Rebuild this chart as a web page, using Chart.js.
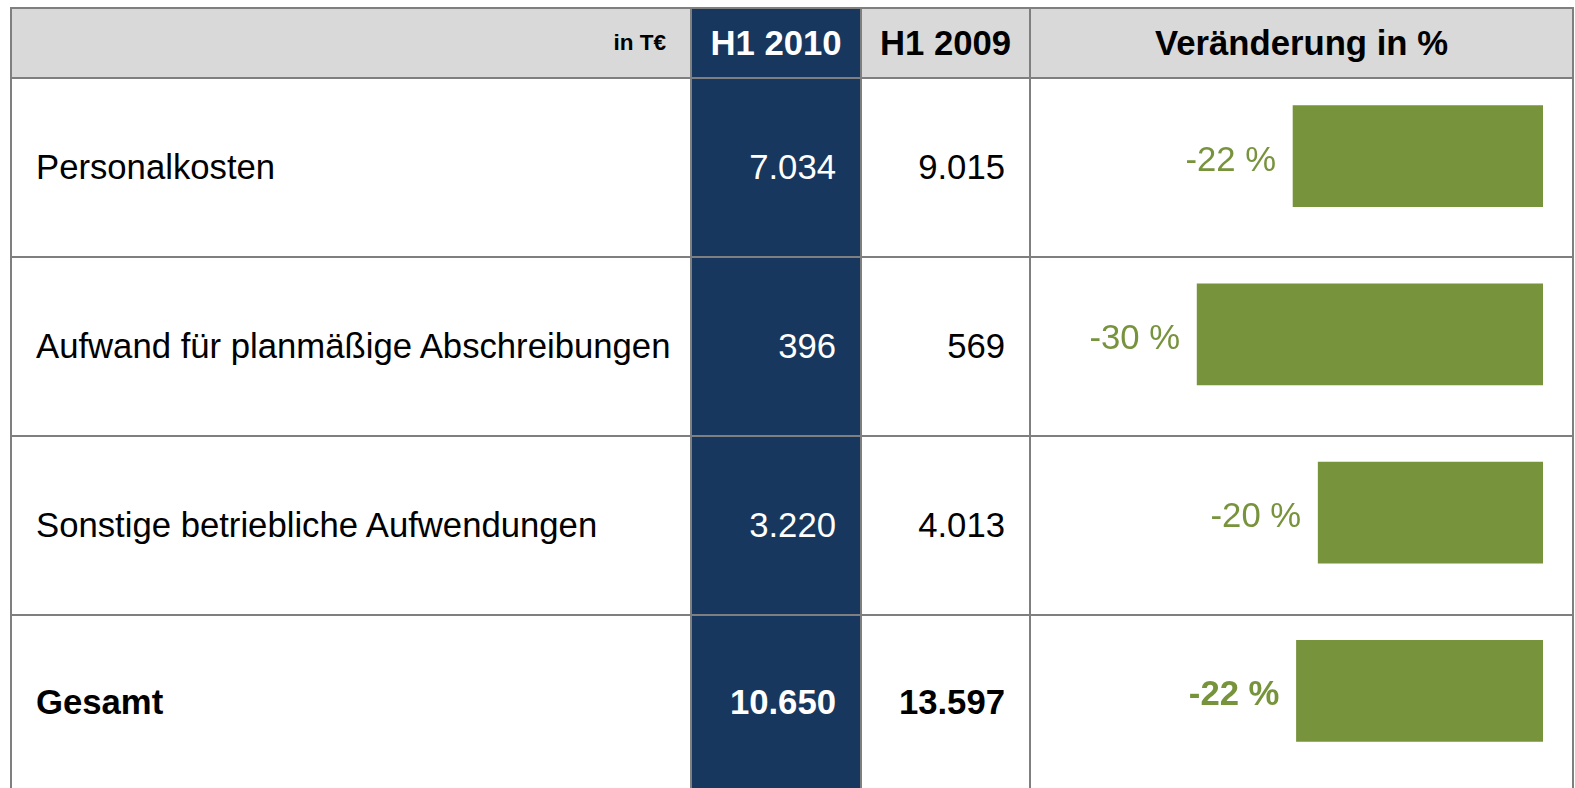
<!DOCTYPE html>
<html lang="de">
<head>
<meta charset="utf-8">
<title>Aufwendungen H1 2010</title>
<script src="https://cdn.jsdelivr.net/npm/chart.js@4.4.1/dist/chart.umd.min.js"></script>
<style>
    html, body {
        margin: 0;
        padding: 0;
        background: #ffffff;
        width: 1575px;
        height: 788px;
        overflow: hidden;
        font-family: "Liberation Sans", Arial, Helvetica, sans-serif;
    }
    #grid {
        position: absolute;
        left: 10px;
        top: 7px;
        display: grid;
        grid-template-columns: 678px 168px 167px 541px;
        grid-template-rows: 68px 177px 177px 177px 172px;
        gap: 2px;
        padding: 2px;
        background: #7f7f7f;
    }
    .cell {
        background: #ffffff;
        display: flex;
        align-items: center;
        padding: 0 24px;
        font-size: 34.7px;
        color: #000;
        white-space: nowrap;
    }
    .head { background: #d9d9d9; font-weight: bold; }
    .left { justify-content: flex-start; }
    .right { justify-content: flex-end; }
    .center { justify-content: center; }
    .blue { background: #17375e; color: #ffffff; }
    .small { font-size: 22.5px; }
    .bold { font-weight: bold; }
    #chartBox {
        position: absolute;
        left: 1031px;
        top: 67px;
        width: 542px;
        height: 713px;
        z-index: 2;
    }
</style>
</head>
<body>
<div id="grid"></div>
<div id="chartBox"><canvas id="changeChart" width="542" height="713"></canvas></div>

<script>
// Table data
const headers = ['in T€', 'H1 2010', 'H1 2009', 'Veränderung in %'];
const categories = ['Personalkosten', 'Aufwand für planmäßige Abschreibungen', 'Sonstige betriebliche Aufwendungen', 'Gesamt'];
const valuesH1_2010 = [7034, 396, 3220, 10650];
const valuesH1_2009 = [9015, 569, 4013, 13597];
const changePct = [-21.97, -30.40, -19.76, -21.67];
const totalRow = 3;

// German thousands separator
function fmt(n) {
    return String(n).replace(/\B(?=(\d{3})+(?!\d))/g, '.');
}

function addCell(text, cls) {
    const div = document.createElement('div');
    div.className = 'cell ' + cls;
    div.textContent = text;
    document.getElementById('grid').appendChild(div);
}

// Header row
addCell(headers[0], 'head right small');
addCell(headers[1], 'head center blue');
addCell(headers[2], 'head center');
addCell(headers[3], 'head center');

// Body rows
categories.forEach(function(cat, i) {
    const b = i === totalRow ? ' bold' : '';
    addCell(cat, 'left' + b);
    addCell(fmt(valuesH1_2010[i]), 'right blue' + b);
    addCell(fmt(valuesH1_2009[i]), 'right' + b);
    addCell('', 'right');
});

// Percentage labels left of each bar
const pctLabels = {
    id: 'pctLabels',
    afterDatasetsDraw(chart) {
        const ctx = chart.ctx;
        const meta = chart.getDatasetMeta(0);
        ctx.save();
        ctx.fillStyle = '#77933c';
        ctx.textAlign = 'right';
        ctx.textBaseline = 'middle';
        meta.data.forEach(function(bar, i) {
            ctx.font = (i === totalRow ? 'bold ' : '') + '34.7px "Liberation Sans", Arial, sans-serif';
            ctx.fillText(Math.round(changePct[i]) + ' %', bar.x - 17, bar.y + 5);
        });
        ctx.restore();
    }
};

const ctx = document.getElementById('changeChart');
new Chart(ctx, {
    type: 'bar',
    data: {
        labels: categories,
        datasets: [{
            data: changePct,
            backgroundColor: '#77933c',
            borderWidth: 0,
            barThickness: 101
        }]
    },
    options: {
        indexAxis: 'y',
        responsive: false,
        animation: false,
        layout: { padding: { left: 0, right: 30, top: 0, bottom: 0 } },
        scales: {
            x: { min: -45.0, max: 0, display: false },
            y: { display: false }
        },
        plugins: {
            legend: { display: false },
            tooltip: { enabled: false }
        }
    },
    plugins: [pctLabels]
});
</script>
</body>
</html>
